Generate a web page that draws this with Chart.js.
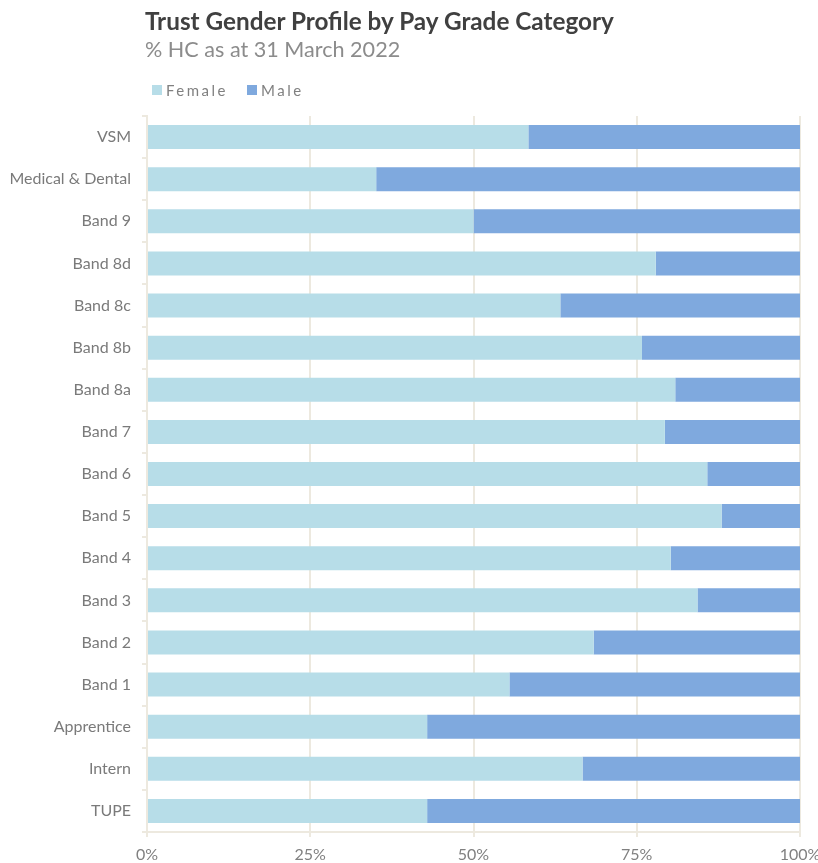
<!DOCTYPE html>
<html>
<head>
<meta charset="utf-8">
<script src="https://cdn.jsdelivr.net/npm/chart.js@4"></script>
<style>
  body { margin: 0; background: #fff; font-family: Lato, "Open Sans", sans-serif; }
  #wrap { position: relative; width: 818px; height: 863px; overflow: hidden; }
  #chart { position: absolute; left: 0; top: 0; }
  .head { position: absolute; left: 145px; color: #404040; white-space: nowrap; }
  #title { top: 6px; font-size: 24.3px; font-weight: bold; }
  #subtitle { top: 36px; font-size: 21.6px; color: #8c8c8c; }
  #legend { position: absolute; left: 152px; top: 81px; font-size: 15px; color: #808080; letter-spacing: 2.5px; display: flex; }
  #legend span.item { display: flex; align-items: center; margin-right: 19px; }
  #legend i { display: inline-block; width: 10px; height: 10px; margin-right: 4px; }
</style>
</head>
<body>
<div id="wrap">
  <canvas id="chart" width="818" height="863"></canvas>
  <div class="head" id="title">Trust Gender Profile by Pay Grade Category</div>
  <div class="head" id="subtitle">% HC as at 31 March 2022</div>
  <div id="legend"></div>
</div>
<script>
// --- Data ---
const categories = ["VSM", "Medical & Dental", "Band 9", "Band 8d", "Band 8c", "Band 8b", "Band 8a",
  "Band 7", "Band 6", "Band 5", "Band 4", "Band 3", "Band 2", "Band 1", "Apprentice", "Intern", "TUPE"];
const female = [58.4, 35.1, 50.0, 77.9, 63.3, 75.8, 80.9, 79.3, 85.8, 88.0, 80.2, 84.3, 68.4, 55.5, 42.9, 66.7, 42.9];
const male = [41.6, 64.9, 50.0, 22.1, 36.7, 24.2, 19.1, 20.7, 14.2, 12.0, 19.8, 15.7, 31.6, 44.5, 57.1, 33.3, 57.1];
const seriesNames = ["Female", "Male"];
const xTicks = [0, 25, 50, 75, 100];

const colors = ["#b7dde8", "#7fa9de"];
const gridColor = "#ede9df";
const fontFamily = "Lato, 'Open Sans', sans-serif";

// --- Legenda ---
const legend = document.getElementById("legend");
seriesNames.forEach((name, i) => {
  const span = document.createElement("span");
  span.className = "item";
  span.innerHTML = `<i style="background:${colors[i]}"></i>${name}`;
  legend.appendChild(span);
});

// --- Kaavio ---
new Chart(document.getElementById("chart"), {
  type: "bar",
  data: {
    labels: categories,
    datasets: [
      { label: seriesNames[0], data: female, backgroundColor: colors[0] },
      { label: seriesNames[1], data: male, backgroundColor: colors[1] }
    ]
  },
  options: {
    indexAxis: "y",
    responsive: false,
    animation: false,
    layout: { padding: { top: 116, right: 18, left: 0, bottom: 0 } },
    datasets: { bar: { barPercentage: 0.57, categoryPercentage: 1.0 } },
    plugins: { legend: { display: false }, tooltip: { enabled: false } },
    scales: {
      x: {
        stacked: true,
        min: 0,
        max: 100,
        afterBuildTicks: (scale) => { scale.ticks = xTicks.map(v => ({ value: v })); },
        afterFit: (scale) => {
          scale.height = 31;
          // 100%-teksti saa mennä reunan yli kuten alkuperäisessä
          scale.paddingRight = 0;
          scale.paddingLeft = 0;
        },
        ticks: {
          callback: (v) => v + "%",
          color: "#808080",
          font: { family: fontFamily, size: 16 },
          padding: 8,
          maxRotation: 0
        },
        grid: { color: gridColor, lineWidth: 2, tickLength: 5 },
        border: { color: gridColor, width: 2 }
      },
      y: {
        stacked: true,
        afterFit: (scale) => { scale.width = 147; },
        ticks: {
          color: "#7a7a7a",
          font: { family: fontFamily, size: 16 },
          padding: 11
        },
        grid: { color: gridColor, lineWidth: 2, tickLength: 5, drawOnChartArea: false, offset: true },
        border: { color: gridColor, width: 2 }
      }
    }
  }
});
</script>
</body>
</html>
